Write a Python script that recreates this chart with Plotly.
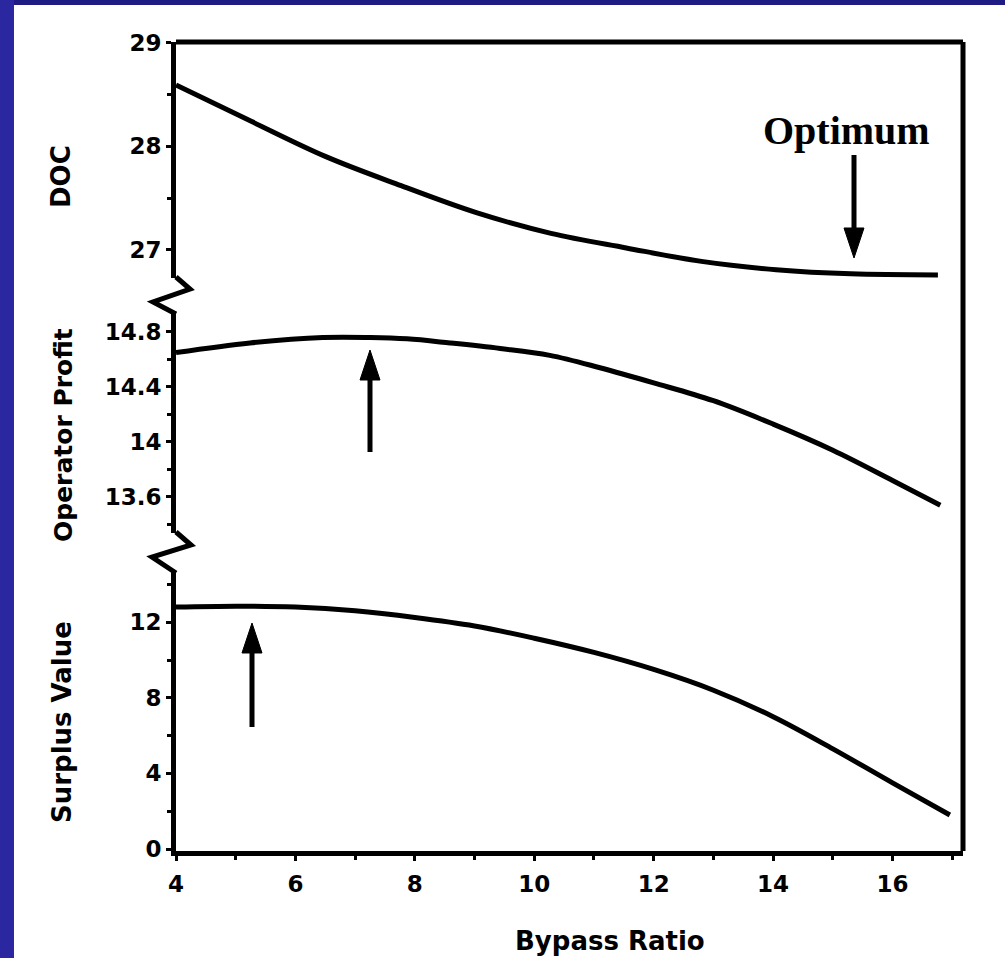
import plotly.graph_objects as go

# ---- data ----
doc_bpr = [4.0, 5.26, 6.51, 7.77, 9.03, 10.28, 11.54, 12.8, 14.05, 15.3, 16.76]
doc_val = [28.59, 28.24, 27.90, 27.62, 27.36, 27.16, 27.02, 26.89, 26.81, 26.77, 26.76]

profit_bpr = [4.0, 5.24, 6.46, 7.25, 7.87, 8.59, 9.43, 10.26, 11.1, 12.0, 13.0, 14.0, 15.0, 16.0, 16.8]
profit_val = [14.65, 14.72, 14.76, 14.76, 14.75, 14.72, 14.68, 14.63, 14.54, 14.43, 14.30, 14.13, 13.94, 13.72, 13.54]

surplus_bpr = [4.0, 5.0, 6.0, 7.0, 8.0, 9.0, 10.0, 11.0, 12.0, 13.0, 14.0, 15.0, 16.0, 16.96]
surplus_val = [12.8, 12.85, 12.8, 12.6, 12.25, 11.8, 11.15, 10.4, 9.5, 8.4, 7.0, 5.3, 3.5, 1.8]

x_ticks = [4, 6, 8, 10, 12, 14, 16]
doc_ticks = [27, 28, 29]
profit_ticks = [13.6, 14.0, 14.4, 14.8]
profit_ticktext = ["13.6", "14", "14.4", "14.8"]
surplus_ticks = [0, 4, 8, 12]

# ---- layout geometry (pixels) ----
W, H = 1005, 958
L, R, T, B = 176, 963, 42, 851
PW, PH = R - L, B - T


def px(x):
    return (x - L) / PW


def py(y):
    return (B - y) / PH


FONT = "DejaVu Sans"
LINE = dict(color="black", width=5)

fig = go.Figure()
fig.add_trace(go.Scatter(x=doc_bpr, y=doc_val, mode="lines", line=dict(shape="spline", **LINE),
                         yaxis="y", showlegend=False))
fig.add_trace(go.Scatter(x=profit_bpr, y=profit_val, mode="lines", line=dict(shape="spline", **LINE),
                         yaxis="y2", showlegend=False))
fig.add_trace(go.Scatter(x=surplus_bpr, y=surplus_val, mode="lines", line=dict(shape="spline", **LINE),
                         yaxis="y3", showlegend=False))

tickfont = dict(family=FONT, size=23, color="black", weight="bold")
common_y = dict(showline=True, linewidth=5, linecolor="black", showgrid=False, zeroline=False,
                ticks="outside", ticklen=5, tickwidth=3, tickcolor="black", tickfont=tickfont,
                ticklabelstandoff=0, anchor="x")
minor_style = dict(ticks="outside", ticklen=4, tickwidth=3, tickcolor="black")

fig.update_layout(
    width=W, height=H,
    margin=dict(l=L, r=W - R, t=T, b=H - B),
    paper_bgcolor="#2a27a0",
    plot_bgcolor="white",
    xaxis=dict(range=[4.0, 17.18], showline=True, linewidth=5, linecolor="black", showgrid=False,
               zeroline=False, ticks="outside", ticklen=5, tickwidth=3, tickcolor="black",
               tickvals=x_ticks, tickfont=tickfont, ticklabelstandoff=3, anchor="y3",
               minor=dict(dtick=1, tick0=4, **minor_style)),
    yaxis=dict(domain=[py(278), 1.0], range=[26.73, 29.005], tickvals=doc_ticks,
               minor=dict(dtick=0.5, tick0=27, **minor_style), **common_y),
    yaxis2=dict(domain=[py(533), py(313)], range=[13.338, 14.938], tickvals=profit_ticks,
                ticktext=profit_ticktext, minor=dict(dtick=0.2, tick0=13.4, **minor_style), **common_y),
    yaxis3=dict(domain=[0.0, py(572)], range=[-0.106, 14.656], tickvals=surplus_ticks,
                minor=dict(dtick=2, tick0=2, **minor_style), **common_y),
)

shapes = [
    # white page area
    dict(type="rect", xref="paper", yref="paper", x0=px(14), x1=px(W + 5), y0=py(H + 5), y1=py(5),
         fillcolor="white", line=dict(width=0), layer="below"),
    # darker top strip
    dict(type="rect", xref="paper", yref="paper", x0=px(14), x1=px(W + 5), y0=py(5), y1=py(-2),
         fillcolor="#1e1c82", line=dict(width=0), layer="below"),
    # top and right frame
    dict(type="line", xref="paper", yref="paper", x0=0, x1=1, y0=1, y1=1, line=LINE),
    dict(type="line", xref="paper", yref="paper", x0=1, x1=1, y0=0, y1=1, line=LINE),
]
# axis break zigzags
for pts in ([(176, 277), (190, 289), (153, 302), (176, 314)],
            [(176, 532), (191, 545), (152, 557), (176, 573)]):
    path = "M " + " L ".join(f"{px(a):.5f},{py(b):.5f}" for a, b in pts)
    shapes.append(dict(type="path", xref="paper", yref="paper", path=path,
                       line=dict(color="black", width=5)))

# annotation arrows (x, tip y, tail y) in pixels
for ax_, tip, tail in ((854, 258, 155), (370, 350, 452), (252, 623, 727)):
    d = 1 if tail > tip else -1
    base = tip + d * 30
    shapes.append(dict(type="line", xref="paper", yref="paper", x0=px(ax_), x1=px(ax_),
                       y0=py(tail), y1=py(base + d * -2), line=dict(color="black", width=5)))
    head = (f"M {px(ax_):.5f},{py(tip):.5f} L {px(ax_ - 10):.5f},{py(base):.5f} "
            f"L {px(ax_ + 10):.5f},{py(base):.5f} Z")
    shapes.append(dict(type="path", xref="paper", yref="paper", path=head,
                       fillcolor="black", line=dict(color="black", width=1)))
fig.update_layout(shapes=shapes)


def title(text, x, y, size, angle=-90, family=FONT, weight="bold"):
    return dict(text=text, x=px(x), y=py(y), xref="paper", yref="paper", textangle=angle,
                xanchor="center", yanchor="middle", showarrow=False,
                font=dict(family=family, size=size, color="black", weight=weight))


annotations = [
    title("DOC", 61, 177, 26),
    title("Operator Profit", 63, 435, 25),
    title("Surplus Value", 62, 722, 26),
    title("Bypass Ratio", 610, 941, 26, angle=0),
    title("Optimum", 846, 131, 40, angle=0, family="Liberation Serif"),
]
fig.update_layout(annotations=annotations)

fig.write_html("out.html")
